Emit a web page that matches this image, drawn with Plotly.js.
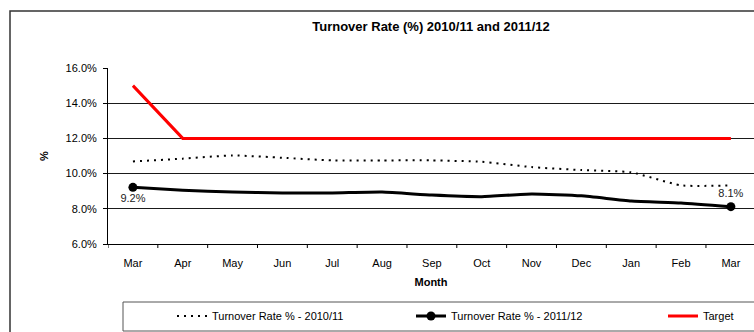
<!DOCTYPE html>
<html>
<head>
<meta charset="utf-8">
<script src="https://cdn.plot.ly/plotly-3.0.1.min.js"></script>
<style>html,body{margin:0;padding:0;background:#fff;}#chart{width:754px;height:332px;}</style>
</head>
<body>
<div id="chart"></div>
<script>
const months = ["Mar","Apr","May","Jun","Jul","Aug","Sep","Oct","Nov","Dec","Jan","Feb","Mar"];
const monthIdx = [0,1,2,3,4,5,6,7,8,9,10,11,12];
const rate2010 = [10.69,10.85,11.03,10.9,10.75,10.75,10.75,10.67,10.37,10.2,10.07,9.33,9.33];
const rate2011 = [9.22,9.05,8.95,8.9,8.9,8.95,8.78,8.69,8.84,8.74,8.44,8.33,8.12];
const target = [15,12,12,12,12,12,12,12,12,12,12,12,12];
const labels2011 = ["9.2%","","","","","","","","","","","","8.1%"];
const yTicks = [6,8,10,12,14,16];

const font = "Liberation Sans, Arial, sans-serif";
const n = rate2011.length;
const markerColors = rate2011.map((v,i)=> (i===0||i===n-1)?"#000":"rgba(0,0,0,0)");
const textPos = rate2011.map((v,i)=> i===0?"bottom center":"top center");

const traces = [
  {x: monthIdx, y: rate2010, type:"scatter", mode:"lines", name:"Turnover Rate % - 2010/11", legend:"legend",
   line:{color:"#000", width:2, dash:"2px,5px", shape:"spline", smoothing:0.5}},
  {x: monthIdx, y: rate2011, type:"scatter", mode:"lines+markers+text", name:"Turnover Rate % - 2011/12", legend:"legend2",
   line:{color:"#000", width:3, shape:"spline", smoothing:0.5},
   marker:{color:markerColors, size:9, line:{width:0}},
   text: labels2011, textposition: textPos, textfont:{family:font, size:11, color:"#222"}},
  {x: monthIdx, y: target, type:"scatter", mode:"lines", name:"Target", legend:"legend3",
   line:{color:"#ff0000", width:3}}
];

const legendPx = (px)=> (px-108)/646;
const legendPy = (py)=> (244-py)/176;
const legBase = {orientation:"h", xanchor:"left", yanchor:"middle", y:legendPy(316),
  font:{family:font, size:11, color:"#000"}, bgcolor:"rgba(0,0,0,0)", borderwidth:0, itemwidth:30};

const layout = {
  width:754, height:332,
  margin:{l:108, r:0, t:68, b:88, autoexpand:false},
  paper_bgcolor:"#fff", plot_bgcolor:"#fff",
  font:{family:font, size:11, color:"#000"},
  title:{text:"<b>Turnover Rate (%) 2010/11 and 2011/12</b>", font:{family:font, size:13, color:"#000"},
         x:0.5, xref:"paper", xanchor:"center", y:0.921, yref:"container", yanchor:"middle"},
  xaxis:{range:[-0.5, 12.464], tickmode:"array", tickvals:monthIdx, ticktext:months,
         showgrid:false, zeroline:false, showline:true, linecolor:"#000", linewidth:1,
         ticks:"", tickfont:{family:font, size:11}, ticklabelstandoff:9,
         title:{text:"<b>Month</b>", font:{family:font, size:11}, standoff:10},
         fixedrange:true},
  yaxis:{range:[6,16], tickmode:"array", tickvals:yTicks, ticktext:yTicks.map(v=>v.toFixed(1)+"%"),
         showgrid:true, gridcolor:"#1a1a1a", gridwidth:1, zeroline:false,
         showline:true, linecolor:"#000", linewidth:1, ticks:"outside", ticklen:4, tickcolor:"#000",
         tickfont:{family:font, size:11}, ticklabelstandoff:4,
         title:{text:"<b>%</b>", font:{family:font, size:11}, standoff:14}},
  showlegend:true,
  legend: Object.assign({}, legBase, {x:legendPx(172)}),
  legend2: Object.assign({}, legBase, {x:legendPx(411)}),
  legend3: Object.assign({}, legBase, {x:legendPx(663)}),
  shapes:[
    {type:"rect", xref:"paper", yref:"paper", x0:(10-108)/646, x1:(770-108)/646, y0:(244-345)/176, y1:(244-11)/176,
     line:{color:"#333", width:1.5}, fillcolor:"rgba(0,0,0,0)", layer:"below"},
    {type:"rect", xref:"paper", yref:"paper", x0:(123-108)/646, x1:(770-108)/646, y0:(244-331)/176, y1:(244-302)/176,
     line:{color:"#555", width:1}, fillcolor:"rgba(0,0,0,0)", layer:"below"}
  ]
};
const tickShapes = [];
for (let i=0;i<months.length;i++){
  tickShapes.push({type:"line", xref:"x", yref:"paper", x0:i-0.5, x1:i-0.5, y0:0, y1:-4/176, line:{color:"#000", width:1}});
}
layout.shapes = layout.shapes.concat(tickShapes);

Plotly.newPlot("chart", traces, layout, {displayModeBar:false, staticPlot:true});
</script>
</body>
</html>
